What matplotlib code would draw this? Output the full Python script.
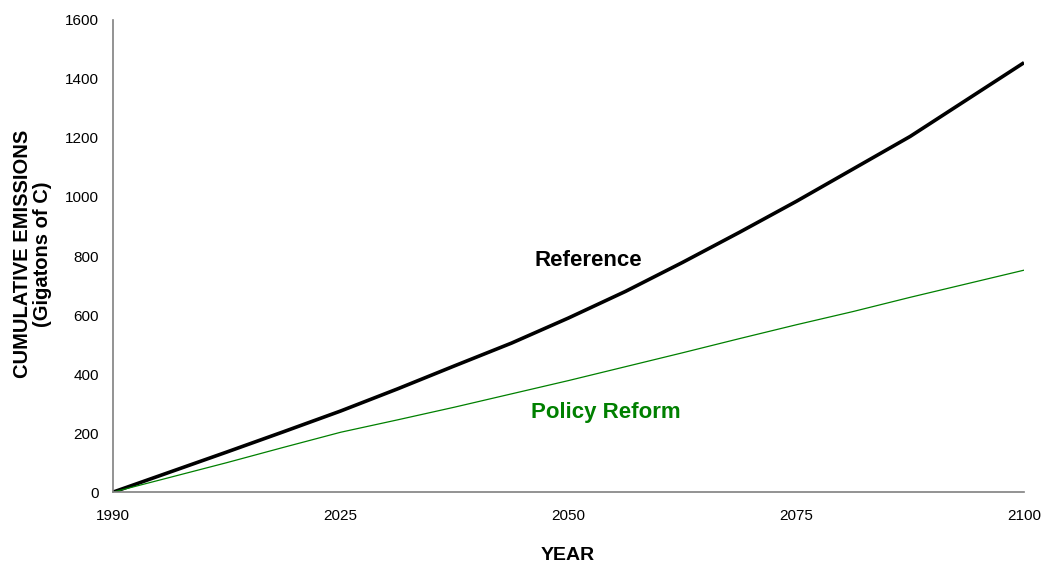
import matplotlib
matplotlib.use("Agg")
import matplotlib.pyplot as plt

# x positions: 4 steps between each labelled year
positions = [i * 0.25 for i in range(17)]
tick_pos = [0, 1, 2, 3, 4]
tick_labels = ["1990", "2025", "2050", "2075", "2100"]

reference = [0, 68, 136, 205, 275, 350, 428, 505, 590, 680, 778, 880,
             985, 1095, 1205, 1330, 1455]
policy_reform = [0, 50, 100, 152, 203, 245, 288, 333, 378, 425, 472, 520,
                 567, 612, 660, 706, 752]

plt.rcParams['font.family'] = ['Liberation Sans', 'DejaVu Sans']

fig = plt.figure(figsize=(10.46, 5.67), dpi=100)
ax = fig.add_axes([0.108, 0.132, 0.871, 0.833])

ax.plot(positions, reference, color="black", linewidth=2.6, solid_capstyle="butt")
ax.plot(positions, policy_reform, color="#008000", linewidth=0.9)

ax.set_xlim(0, 4)
ax.set_ylim(0, 1600)
ax.set_xticks(tick_pos)
ax.set_xticklabels(tick_labels)
ax.set_yticks(range(0, 1601, 200))

for s in ["top", "right"]:
    ax.spines[s].set_visible(False)
for s in ["left", "bottom"]:
    ax.spines[s].set_color("#808080")
    ax.spines[s].set_linewidth(1.2)
ax.tick_params(axis="both", length=0, labelsize=11)
ax.tick_params(axis="x", pad=12)
ax.tick_params(axis="y", pad=10)

ax.text(2.085, 785, "Reference", fontsize=16, fontweight="bold", color="black",
        ha="center", va="center")
ax.text(2.165, 270, "Policy Reform", fontsize=16, fontweight="bold", color="#008000",
        ha="center", va="center")

fig.text(0.031, 0.552, "CUMULATIVE EMISSIONS\n(Gigatons of C)", rotation=90,
         fontsize=14.5, fontweight="bold", ha="center", va="center", linespacing=1.05)
fig.text(0.543, 0.021, "YEAR", fontsize=14, fontweight="bold", ha="center", va="center")

fig.savefig("out.png", dpi=100)
